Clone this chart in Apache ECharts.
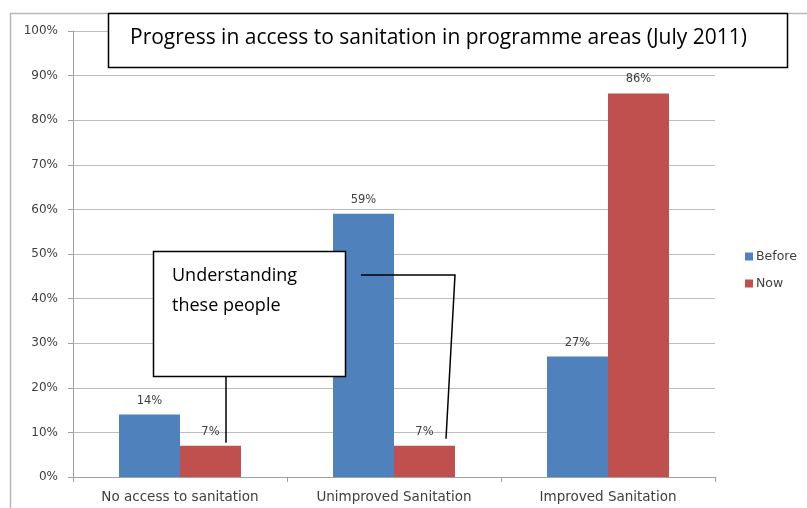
<!DOCTYPE html>
<html>
<head>
<meta charset="utf-8">
<script src="https://cdn.jsdelivr.net/npm/echarts@6/dist/echarts.min.js"></script>
<style>
  html, body { margin: 0; padding: 0; background: #fff; }
  #chart { width: 807px; height: 508px; }
</style>
</head>
<body>
<div id="chart"></div>
<script>
// Sanitation access shares, before and after the programme
const categories = ['No access to sanitation', 'Unimproved Sanitation', 'Improved Sanitation'];
const beforeValues = [14, 59, 27];
const nowValues = [7, 7, 86];
const yTicks = [0, 10, 20, 30, 40, 50, 60, 70, 80, 90, 100];

const titleText = 'Progress in access to sanitation in programme areas (July 2011)';
const calloutLines = ['Understanding', 'these people'];

const chart = echarts.init(document.getElementById('chart'), null, { renderer: 'canvas' });

const labelStyle = {
  show: true,
  position: 'top',
  distance: 8,
  formatter: p => p.value + '%',
  color: '#404040',
  fontFamily: 'DejaVu Sans',
  fontSize: 11.5
};

const option = {
  animation: false,
  backgroundColor: '#fff',
  grid: { left: 73, right: 92, top: 31, bottom: 31, containLabel: false },
  legend: {
    orient: 'vertical',
    left: 740,
    top: 245,
    itemWidth: 8,
    itemHeight: 8,
    itemGap: 14,
    icon: 'rect',
    textStyle: { color: '#404040', fontFamily: 'DejaVu Sans', fontSize: 12.5, padding: [0, 0, 0, -2] },
    data: ['Before', 'Now']
  },
  xAxis: {
    type: 'category',
    data: categories,
    axisLine: { lineStyle: { color: '#a0a0a0', width: 1 } },
    axisTick: { show: true, length: 5, lineStyle: { color: '#a0a0a0' } },
    axisLabel: { color: '#404040', fontFamily: 'DejaVu Sans', fontSize: 13.5, margin: 13 }
  },
  yAxis: {
    type: 'value',
    min: yTicks[0],
    max: yTicks[yTicks.length - 1],
    interval: 10,
    axisLine: { show: true, lineStyle: { color: '#a0a0a0', width: 1 } },
    axisTick: { show: true, length: 5, lineStyle: { color: '#a0a0a0' } },
    axisLabel: { color: '#404040', fontFamily: 'DejaVu Sans', fontSize: 12, margin: 15, formatter: '{value}%' },
    splitLine: { lineStyle: { color: '#bdbdbd', width: 1.2 } }
  },
  series: [
    {
      name: 'Before',
      type: 'bar',
      data: beforeValues,
      barGap: '0%',
      barCategoryGap: '43%',
      itemStyle: { color: '#4F81BD' },
      label: labelStyle
    },
    {
      name: 'Now',
      type: 'bar',
      data: nowValues,
      itemStyle: { color: '#C0504D' },
      label: labelStyle
    }
  ]
};

chart.setOption(option);

// Overlay: chart frame, title box and callout with its connector lines
const pt = (cat, val) => chart.convertToPixel({ xAxisIndex: 0, yAxisIndex: 0 }, [cat, val]);
const p7a = pt(0, nowValues[0]);
const p7b = pt(1, nowValues[1]);

chart.setOption({
  graphic: [
    { type: 'line', shape: { x1: 10.5, y1: 13, x2: 10.5, y2: 508 }, style: { stroke: '#b8b8b8', lineWidth: 1.5 }, z: 50 },
    { type: 'line', shape: { x1: 10, y1: 13.5, x2: 807, y2: 13.5 }, style: { stroke: '#b8b8b8', lineWidth: 1.5 }, z: 50 },
    {
      type: 'rect', shape: { x: 108.5, y: 13.5, width: 679, height: 54 },
      style: { fill: '#fff', stroke: '#000', lineWidth: 1.5 }, z: 100
    },
    {
      type: 'text', left: 130, top: 28, z: 101,
      style: { text: titleText, fill: '#000', font: '21px "Open Sans"' }
    },
    {
      type: 'rect', shape: { x: 153.5, y: 251.5, width: 192, height: 125 },
      style: { fill: '#fff', stroke: '#000', lineWidth: 1.5 }, z: 100
    },
    {
      type: 'text', left: 172, top: 261, z: 101,
      style: { text: calloutLines.join('\n'), fill: '#000', font: '18px "Open Sans"', lineHeight: 30 }
    },
    {
      type: 'line', z: 100,
      shape: { x1: 226, y1: 377, x2: 226, y2: p7a[1] - 3 },
      style: { stroke: '#000', lineWidth: 1.5 }
    },
    {
      type: 'polyline', z: 100,
      shape: { points: [[361, 275], [455, 275], [446, p7b[1] - 7]] },
      style: { stroke: '#000', lineWidth: 1.5, fill: null }
    }
  ]
});
</script>
</body>
</html>
